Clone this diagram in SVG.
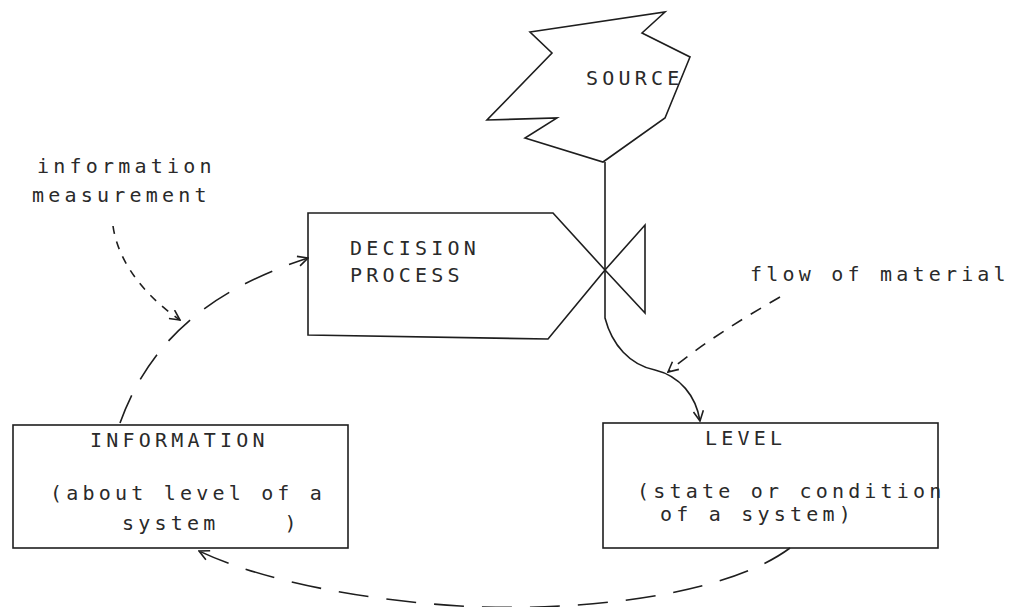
<svg xmlns="http://www.w3.org/2000/svg" width="1020" height="607" viewBox="0 0 1020 607">
<defs>
<style>
.shape{fill:none;stroke:#1e1e1e;stroke-width:1.6;stroke-linejoin:miter}
.t{font-family:"DejaVu Sans Mono","Liberation Mono",monospace;font-size:20px;letter-spacing:4.2px;fill:#2a2a2a}
.big{stroke-dasharray:30 18}
.small{stroke-dasharray:8 8}
.mid{stroke-dasharray:12 10}
</style>
<marker id="open" viewBox="0 0 12 12" refX="11" refY="6" markerWidth="12" markerHeight="12" markerUnits="userSpaceOnUse" orient="auto">
<path d="M1,1 L11,6 L1,11" fill="none" stroke="#1e1e1e" stroke-width="1.6"/>
</marker>
</defs>
<rect width="1020" height="607" fill="#ffffff"/>

<g id="source">
<polygon class="shape" points="530,32 665,12 642,33 690,57 665,118 603,162 525,138 557,118 487,120 552,53"/>
<text class="t" x="586" y="85">SOURCE</text>
</g>

<g id="decision-process">
<polygon class="shape" points="308,213 553,213 605,270 548,339 308,335"/>
<text class="t" x="350" y="255">DECISION</text>
<text class="t" x="350" y="282">PROCESS</text>
</g>

<g id="valve">
<polygon class="shape" points="605,270 645,225 645,313"/>
</g>

<g id="information">
<rect class="shape" x="13" y="425" width="335" height="123"/>
<text class="t" x="90" y="447">INFORMATION</text>
<text class="t" x="50" y="500">(about level of a</text>
<text class="t" x="122" y="530" xml:space="preserve">system    )</text>
</g>

<g id="level">
<rect class="shape" x="603" y="423" width="335" height="125"/>
<text class="t" x="705" y="445">LEVEL</text>
<text class="t" x="637" y="498">(state or condition</text>
<text class="t" x="660" y="521">of a system)</text>
</g>

<g id="label-information-measurement">
<text class="t" x="37" y="173">information</text>
<text class="t" x="32" y="202">measurement</text>
</g>

<g id="label-flow-of-material">
<text class="t" x="750" y="281">flow of material</text>
</g>

<g id="connectors">
<path class="shape" d="M605,162 L605,318 C612,345 630,365 655,370 C680,376 696,396 700,421" marker-end="url(#open)"/>
<path class="shape big" d="M120,423 C150,340 210,290 308,258" marker-end="url(#open)"/>
<path class="shape big" d="M790,548 C720,600 560,612 460,606 C360,600 260,580 199,551" marker-end="url(#open)"/>
<path class="shape small" d="M113,226 C118,262 145,296 180,320" marker-end="url(#open)"/>
<path class="shape mid" d="M780,297 C740,320 700,345 668,372" marker-end="url(#open)"/>
</g>
</svg>
